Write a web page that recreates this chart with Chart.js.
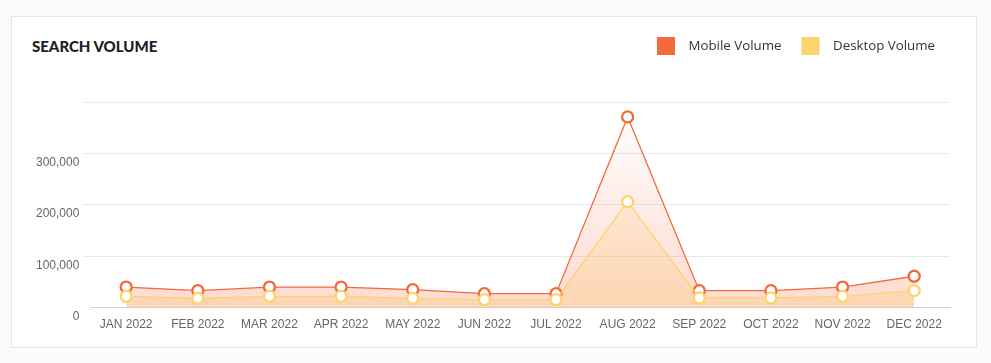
<!DOCTYPE html>
<html>
<head>
<meta charset="utf-8">
<script src="https://cdn.jsdelivr.net/npm/chart.js@4/dist/chart.umd.min.js"></script>
<style>
  html, body { margin: 0; padding: 0; background: #fbfbfb; }
  .card {
    position: absolute; left: 11px; top: 16px; width: 964px; height: 330px;
    background: #fff; border: 1px solid #e4e6e6;
  }
  .title {
    position: absolute; left: 20px; top: 20px;
    font: 900 15px Lato, sans-serif; color: #1d1d25;
  }
  #volumeChart { position: absolute; left: 0; top: 0; }
</style>
</head>
<body>
<div class="card">
  <div class="title">SEARCH VOLUME</div>
  <canvas id="volumeChart" width="964" height="330"></canvas>
</div>
<script>
const months = ["JAN 2022", "FEB 2022", "MAR 2022", "APR 2022", "MAY 2022", "JUN 2022",
  "JUL 2022", "AUG 2022", "SEP 2022", "OCT 2022", "NOV 2022", "DEC 2022"];
const mobileVolume = [40000, 33000, 40000, 40000, 35000, 27000, 27000, 371000, 33000, 33000, 40000, 61000];
const desktopVolume = [22000, 18000, 22000, 22000, 18000, 15500, 15500, 206000, 19000, 19000, 22000, 33000];
const yTicks = [0, 100000, 200000, 300000, 400000];

function fade(rgb, top, bottom) {
  return (ctx) => {
    const area = ctx.chart.chartArea;
    if (!area) return "rgba(" + rgb + "," + bottom + ")";
    const g = ctx.chart.ctx.createLinearGradient(0, area.top, 0, area.bottom);
    g.addColorStop(0, "rgba(" + rgb + "," + top + ")");
    g.addColorStop(1, "rgba(" + rgb + "," + bottom + ")");
    return g;
  };
}

// push the plot down below the legend row, nudge legend right
const legendGap = {
  id: "legendGap",
  beforeInit(chart) {
    const fit = chart.legend.fit;
    chart.legend.fit = function () {
      fit.bind(chart.legend)();
      this.height += 37;
    };
  },
  afterLayout(chart) {
    chart.legend.left += 5;
    chart.legend.right += 5;
  },
};

const data = {
  labels: months,
  datasets: [
    {
      label: "Mobile Volume",
      data: mobileVolume,
      order: 2,
      borderColor: "#f2693b",
      backgroundColor: fade("244,104,59", 0.0, 0.24),
      borderWidth: 1.3,
      fill: "origin",
      tension: 0,
      pointRadius: 5.5,
      pointBorderWidth: 2.3,
      pointBackgroundColor: "#fff",
      pointBorderColor: "#f2693b",
    },
    {
      label: "Desktop Volume",
      data: desktopVolume,
      order: 1,
      borderColor: "#fdd36f",
      backgroundColor: fade("253,200,110", 0.05, 0.3),
      borderWidth: 1.3,
      fill: "origin",
      tension: 0,
      pointRadius: 5.5,
      pointBorderWidth: 2.3,
      pointBackgroundColor: "#fff",
      pointBorderColor: "#fdd36f",
    },
  ],
};

const config = {
  type: "line",
  data: data,
  plugins: [legendGap],
  options: {
    responsive: false,
    animation: false,
    layout: { padding: { left: 21, right: 26, top: 0, bottom: 5 } },
    plugins: {
      tooltip: { enabled: false },
      legend: {
        position: "top",
        align: "end",
        labels: {
          boxWidth: 18,
          boxHeight: 18,
          padding: 20,
          color: "#333",
          font: { family: "'Open Sans'", size: 13.3 },
          sort: (a, b) => a.datasetIndex - b.datasetIndex,
          generateLabels: (chart) =>
            Chart.defaults.plugins.legend.labels.generateLabels(chart).map((l) => {
              const ds = chart.data.datasets[l.datasetIndex];
              l.text = "  " + ds.label;
              l.fillStyle = ds.borderColor;
              l.strokeStyle = ds.borderColor;
              l.lineWidth = 0;
              return l;
            }),
        },
      },
    },
    scales: {
      x: {
        offset: true,
        grid: { display: false, drawTicks: false },
        border: { color: "#d2d2d2" },
        ticks: { color: "#666", padding: 10, maxRotation: 0, font: { family: "'Liberation Sans'", size: 12 } },
      },
      y: {
        min: yTicks[0],
        max: yTicks[yTicks.length - 1],
        border: { display: false },
        grid: {
          tickLength: 8,
          color: (c) => (c.tick && c.tick.value === 0 ? "rgba(0,0,0,0)" : "#e9e9e9"),
        },
        afterBuildTicks: (axis) => {
          axis.ticks = yTicks.map((v) => ({ value: v }));
        },
        ticks: {
          color: "#666",
          padding: 3,
          labelOffset: 9,
          font: { family: "'Liberation Sans'", size: 12 },
          callback: (v) => (v === yTicks[yTicks.length - 1] ? "" : v.toLocaleString("en-US")),
        },
      },
    },
  },
};

const volumeChart = new Chart(document.getElementById("volumeChart"), config);
</script>
</body>
</html>
